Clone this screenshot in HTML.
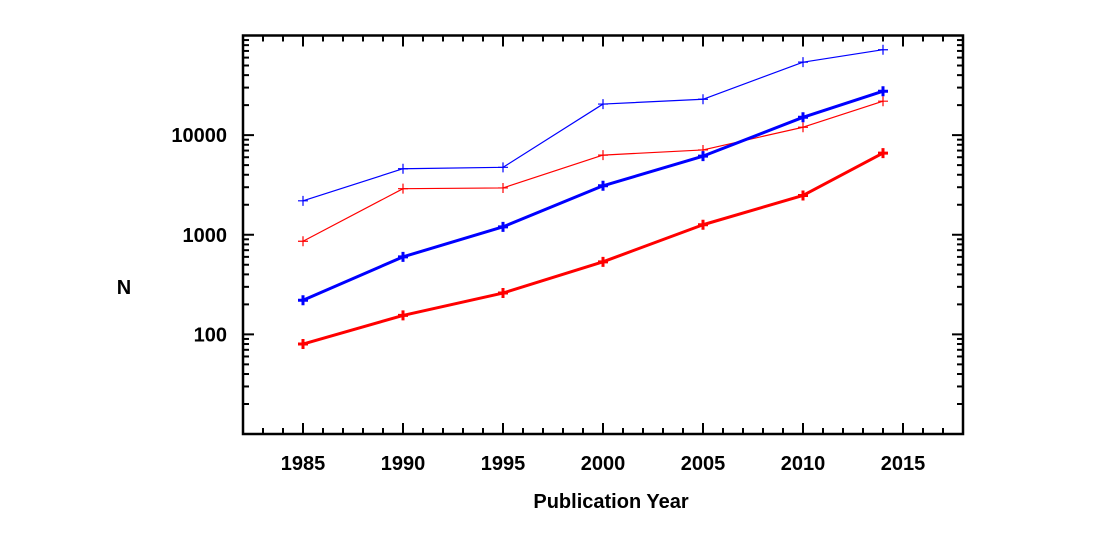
<!DOCTYPE html>
<html><head><meta charset="utf-8"><style>
html,body{margin:0;padding:0;background:#fff;}
svg text{font-family:"Liberation Sans",Arial,sans-serif;font-weight:bold;fill:#000;}
</style></head><body>
<svg id="chart" width="1100" height="550" viewBox="0 0 1100 550" xmlns="http://www.w3.org/2000/svg">
<g id="grid"></g>
<g id="series"></g>
<rect x="243" y="35.5" width="720" height="398.5" fill="none" stroke="#000" stroke-width="2.5"/>
<text x="124" y="294" font-size="20" text-anchor="middle">N</text>
<text x="611" y="508" font-size="20" text-anchor="middle">Publication Year</text>
</svg>
<script>
const years = [1985, 1990, 1995, 2000, 2005, 2010, 2014];
const thinBlue = [2190, 4600, 4750, 20500, 22900, 54000, 72000];
const thinRed = [860, 2900, 2950, 6300, 7100, 12000, 21900];
const thickBlue = [220, 600, 1200, 3100, 6150, 15100, 27600];
const thickRed = [80, 155, 260, 535, 1260, 2480, 6600];
const xTicks = [1985, 1990, 1995, 2000, 2005, 2010, 2015];
const yTicks = [100, 1000, 10000];
const yTickLabels = ["100", "1000", "10000"];

const X0 = 243, X1 = 963, YT = 35.5, YB = 434;
const xMin = 1982, xMax = 2018, lMin = 1, lMax = 5;
function sx(v){ return X0 + (v - xMin) / (xMax - xMin) * (X1 - X0); }
function sy(v){ return YB - (Math.log10(v) - lMin) / (lMax - lMin) * (YB - YT); }

const NS = "http://www.w3.org/2000/svg";
const grid = document.getElementById('grid');
const ser = document.getElementById('series');
function mk(tag, attrs, parent){
  const e = document.createElementNS(NS, tag);
  for (const k in attrs) e.setAttribute(k, attrs[k]);
  parent.appendChild(e); return e;
}
// x ticks
for (let y = xMin + 1; y < xMax; y++) {
  const major = y % 5 === 0;
  const len = major ? 11 : 6;
  const x = sx(y);
  const t1 = mk('line', {x1:x, x2:x, y1:YB, y2:YB-len, stroke:'#000','stroke-width':2}, grid);
  
  
  const t2 = mk('line', {x1:x, x2:x, y1:YT, y2:YT+len, stroke:'#000','stroke-width':2}, grid);
  
  
}
xTicks.forEach(v => {
  const t = mk('text', {x:sx(v), y:470, 'font-size':20, 'text-anchor':'middle'}, grid);
  t.textContent = v;
  
  
});
// y ticks
for (let d = 1; d < 5; d++) {
  for (let m = 1; m <= 9; m++) {
    const v = m * Math.pow(10, d);
    if (m === 1 && d === 1) continue;
    const y = sy(v);
    const len = m === 1 ? 11 : 6;
    const a = mk('line', {x1:X0, x2:X0+len, y1:y, y2:y, stroke:'#000','stroke-width':2}, grid);
    
    
    const b = mk('line', {x1:X1, x2:X1-len, y1:y, y2:y, stroke:'#000','stroke-width':2}, grid);
    
    
  }
}
yTicks.forEach((v, i) => {
  const t = mk('text', {x:227, y:sy(v)+7, 'font-size':20, 'text-anchor':'end'}, grid);
  t.textContent = yTickLabels[i];
  
  
});
function drawSeries(vals, color, w, name){
  const pts = years.map((y, i) => sx(y) + ',' + sy(vals[i])).join(' ');
  const pl = mk('polyline', {points:pts, fill:'none', stroke:color, 'stroke-width':w, 'stroke-linejoin':'round'}, ser);
  
  
  years.forEach((y, i) => {
    const cx = sx(y), cy = sy(vals[i]), r = 5;
    const p = mk('path', {d:`M${cx-r},${cy}H${cx+r}M${cx},${cy-r}V${cy+r}`, stroke:color, 'stroke-width':w, fill:'none'}, ser);
    
    
  });
}
drawSeries(thinBlue, '#0000ff', 1.2, 'thin-blue');
drawSeries(thinRed, '#ff0000', 1.2, 'thin-red');
drawSeries(thickBlue, '#0000ff', 3, 'thick-blue');
drawSeries(thickRed, '#ff0000', 3, 'thick-red');
</script>
</body></html>
